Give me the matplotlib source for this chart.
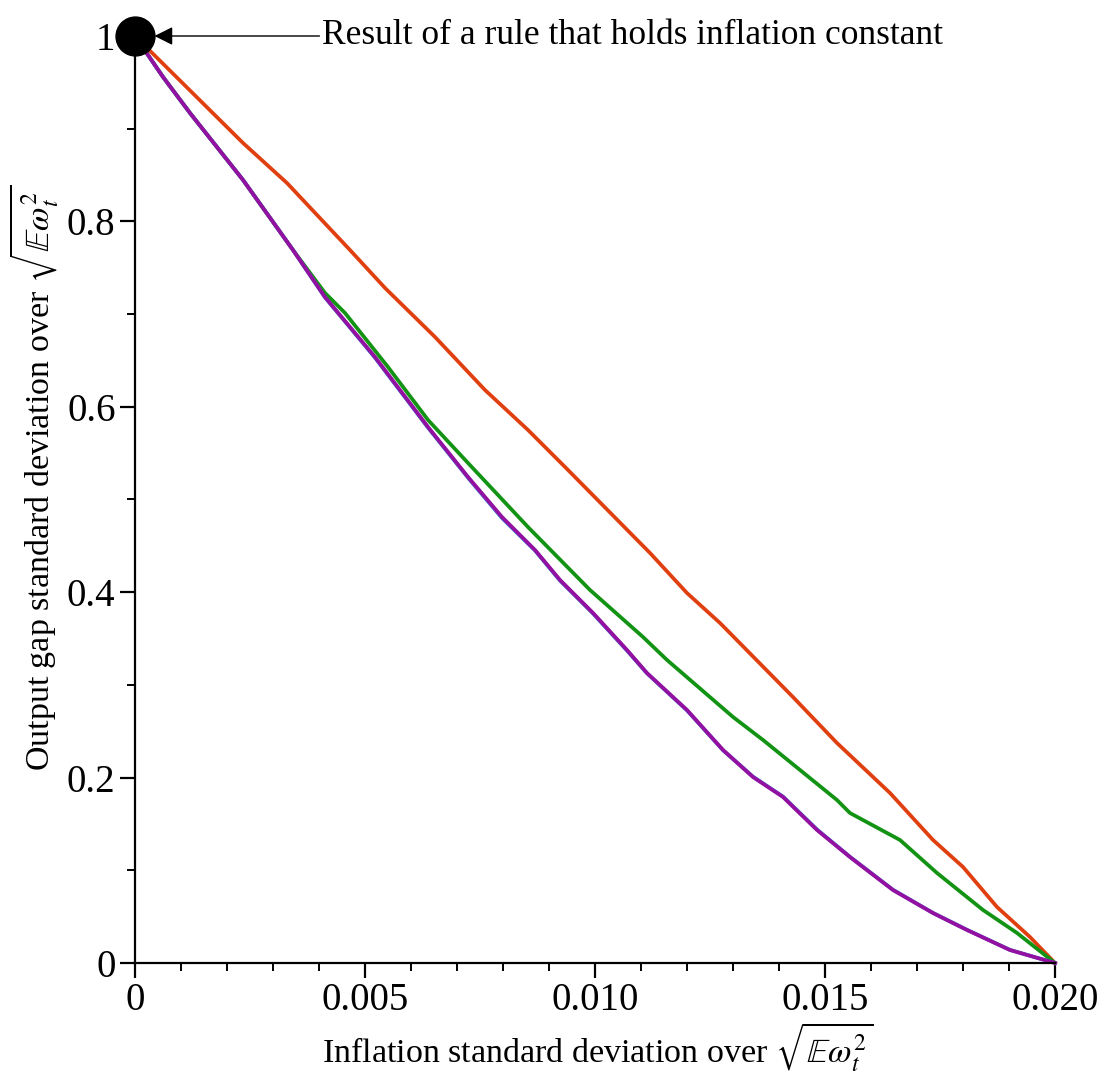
import matplotlib
matplotlib.use("Agg")
import matplotlib.pyplot as plt
from matplotlib.ticker import MultipleLocator, FixedLocator

plt.rcParams['font.family'] = ['Liberation Serif', 'DejaVu Serif']
plt.rcParams['mathtext.fontset'] = 'stix'

# ---- data ----
red_x = [0, 0.002348, 0.003304, 0.004674, 0.005435, 0.006522, 0.007609, 0.008543,
         0.009348, 0.011196, 0.012, 0.012717, 0.014304, 0.015261, 0.016413,
         0.017348, 0.018, 0.018739, 0.019457, 0.02]
red_y = [1.0, 0.8846, 0.8414, 0.7691, 0.7282, 0.6753, 0.6181, 0.5750, 0.5351,
         0.4423, 0.3991, 0.3668, 0.2869, 0.2373, 0.1834, 0.1327, 0.1036,
         0.0604, 0.0280, 0.0]

green_x = [0, 0.000609, 0.001196, 0.002348, 0.003435, 0.00413, 0.004565, 0.0055,
           0.00637, 0.007239, 0.008543, 0.009891, 0.011043, 0.011565, 0.013,
           0.013652, 0.014457, 0.015261, 0.015543, 0.01663, 0.017435, 0.018435,
           0.019174, 0.02]
green_y = [1.0, 0.9558, 0.9169, 0.8447, 0.7691, 0.7228, 0.7012, 0.6429, 0.5858,
           0.5394, 0.4703, 0.4024, 0.3517, 0.3269, 0.2654, 0.2406, 0.2082,
           0.1758, 0.1618, 0.1327, 0.0971, 0.0572, 0.0324, 0.0]

blue_x = [0, 0.000609, 0.001196, 0.002348, 0.003435, 0.00413, 0.005217, 0.00637,
          0.007239, 0.007978, 0.008696, 0.009239, 0.009957, 0.010696, 0.01113,
          0.012, 0.012783, 0.013435, 0.014087, 0.014826, 0.015543, 0.016478,
          0.017348, 0.018087, 0.019022, 0.02]
blue_y = [1.0, 0.9558, 0.9169, 0.8447, 0.7691, 0.7180, 0.6530, 0.5775, 0.5235,
          0.4800, 0.4450, 0.4125, 0.3770, 0.3370, 0.3125, 0.2725, 0.2295,
          0.2010, 0.1795, 0.1440, 0.1145, 0.0790, 0.0540, 0.0358, 0.0141, 0.0]

purple_x = [0, 0.000609, 0.001196, 0.002348, 0.003435, 0.00413, 0.005217, 0.00637,
            0.007239, 0.007978, 0.008696, 0.009239, 0.009957, 0.010696, 0.01113,
            0.012, 0.012783, 0.013435, 0.014087, 0.014826, 0.015543, 0.016478,
            0.017348, 0.018087, 0.019022, 0.02]
purple_y = [1.0, 0.9558, 0.9169, 0.8447, 0.7691, 0.7184, 0.6537, 0.5782, 0.5243,
            0.4811, 0.4455, 0.4132, 0.3776, 0.3376, 0.3128, 0.2729, 0.2298,
            0.2006, 0.1791, 0.1435, 0.1143, 0.0787, 0.0539, 0.0356, 0.0140, 0.0]

point_x = [0.0]
point_y = [1.0]

x_ticks = [0, 0.005, 0.010, 0.015, 0.020]
x_tick_labels = ['0', '0.005', '0.010', '0.015', '0.020']
y_ticks = [0, 0.2, 0.4, 0.6, 0.8, 1.0]
y_tick_labels = ['0', '0.2', '0.4', '0.6', '0.8', '1']

annotation_text = 'Result of a rule that holds inflation constant'
x_label = r'Inflation standard deviation over $\sqrt{\mathbb{E}\omega_t^2}$'
y_label = r'Output gap standard deviation over $\sqrt{\mathbb{E}\omega_t^2}$'

# ---- figure ----
W, H = 1103, 1073
fig = plt.figure(figsize=(W / 100, H / 100), dpi=100)
ax = fig.add_axes([135 / W, 110 / H, 920 / W, 927 / H])

lw = 2.7
ax.plot(red_x, red_y, color='#e0400f', lw=lw, clip_on=False, zorder=3)
ax.plot(green_x, green_y, color='#139313', lw=lw, clip_on=False, zorder=3)
ax.plot(blue_x, blue_y, color='#3a78d8', lw=lw, clip_on=False, zorder=3)
ax.plot(purple_x, purple_y, color='#9410a0', lw=lw, clip_on=False, zorder=4)

ax.plot(point_x, point_y, 'o', color='black', markersize=28, clip_on=False, zorder=6)

ax.annotate(annotation_text, xy=(point_x[0], point_y[0]), xytext=(0.00407, 1.0),
            textcoords='data', ha='left', va='center', fontsize=25.5,
            arrowprops=dict(arrowstyle='-|>', color='black', lw=1.0,
                            mutation_scale=28, shrinkA=0, shrinkB=14,
                            relpos=(0, 0.5)),
            zorder=7, annotation_clip=False)

ax.set_xlim(0, 0.02)
ax.set_ylim(0, 1)

for s in ['top', 'right']:
    ax.spines[s].set_visible(False)
for s in ['left', 'bottom']:
    ax.spines[s].set_linewidth(1.6)
    ax.spines[s].set_zorder(5)

ax.xaxis.set_major_locator(FixedLocator(x_ticks))
ax.set_xticklabels(x_tick_labels)
ax.xaxis.set_minor_locator(MultipleLocator(0.001))
ax.yaxis.set_major_locator(FixedLocator(y_ticks))
ax.set_yticklabels(y_tick_labels)
ax.yaxis.set_minor_locator(MultipleLocator(0.1))

ax.tick_params(axis='both', which='major', direction='out', length=11, width=1.6,
               labelsize=28, pad=3)
ax.tick_params(axis='both', which='minor', direction='out', length=6, width=1.4)

# axis titles placed at the reference positions
fig.text(598 / W, 10 / H, x_label, fontsize=24.5, ha='center', va='baseline')
fig.text(50 / W, 1 - 478 / H, y_label, fontsize=24.5, rotation=90,
         rotation_mode='anchor', ha='center', va='baseline')

fig.savefig('out.png', dpi=100)
